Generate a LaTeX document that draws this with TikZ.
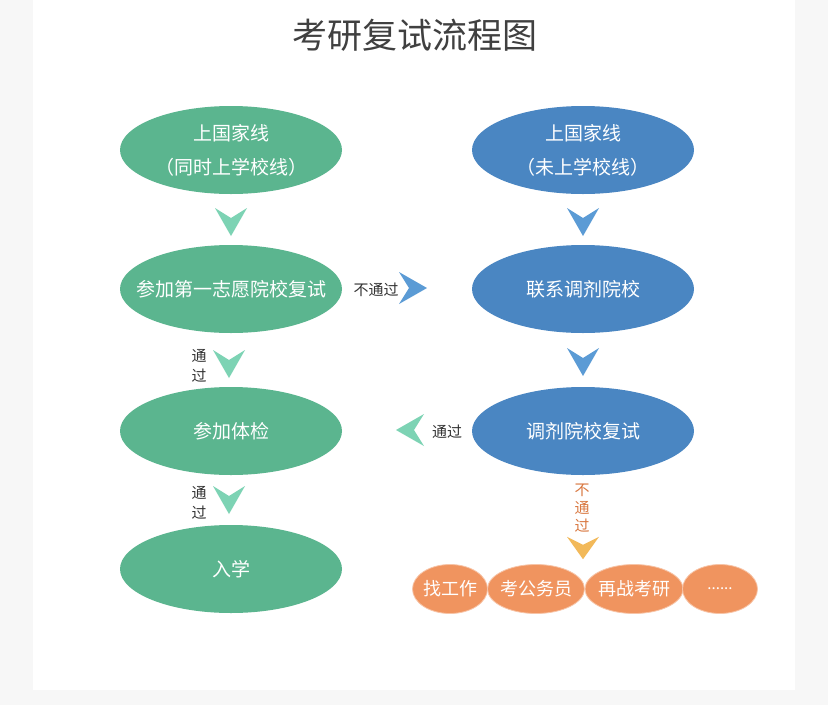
\documentclass[tikz,border=0pt]{standalone}
\usepackage{fontspec}
\setmainfont{Noto Sans CJK SC}
\usepackage{tikz}
\usetikzlibrary{positioning,calc,shapes.geometric}
\definecolor{passgreen}{RGB}{91,181,143}
\definecolor{adjblue}{RGB}{74,134,194}
\definecolor{failorange}{RGB}{240,148,95}
\definecolor{mintarrow}{RGB}{125,211,180}
\definecolor{skyarrow}{RGB}{91,155,213}
\definecolor{goldarrow}{RGB}{242,185,90}
\definecolor{labelgray}{RGB}{51,51,51}
\definecolor{titlegray}{RGB}{64,64,64}
\definecolor{labelorange}{RGB}{217,119,63}
\definecolor{pagegray}{RGB}{247,247,247}

\begin{document}
\begin{tikzpicture}[x=1pt,y=-1pt,
    oval/.style={ellipse,inner xsep=-40pt,inner ysep=0pt,minimum width=222pt,minimum height=88pt,
                 text=white,align=center,font=\fontsize{19}{34}\selectfont},
    endoval/.style={ellipse,inner xsep=-10pt,inner ysep=0pt,minimum height=49pt,draw=failorange!55!white,
                 line width=0.8pt,fill=failorange,text=white,font=\fontsize{18}{20}\selectfont},
    lbl/.style={text=labelgray,align=center,font=\fontsize{15}{20}\selectfont},
    chev/.pic={\fill (-16,-14) -- (0,-4) -- (16,-14) -- (0,14) -- cycle;}]
        % page and panel
        \fill[pagegray] (0,0) rectangle (828,705);
        \fill[white] (33,0) rectangle (795,690);
        \node[text=titlegray,font=\fontsize{35}{35}\selectfont] (title) at (415,35) {考研复试流程图};
        % left column
        \node[oval,fill=passgreen] (g1) at (231,150) {上国家线\\（同时上学校线）};
        \node[oval,fill=passgreen] (g2) at (231,289) {参加第一志愿院校复试};
        \node[oval,fill=passgreen] (g3) at (231,431) {参加体检};
        \node[oval,fill=passgreen] (g4) at (231,569) {入学};
        % right column
        \node[oval,fill=adjblue] (b1) at (583,150) {上国家线\\（未上学校线）};
        \node[oval,fill=adjblue] (b2) at (583,289) {联系调剂院校};
        \node[oval,fill=adjblue] (b3) at (583,431) {调剂院校复试};
        % other ways out
        \node[endoval,minimum width=75pt] (o1) at (450,589) {找工作};
        \node[endoval,minimum width=97pt] (o2) at (536,589) {考公务员};
        \node[endoval,minimum width=98pt] (o3) at (634,589) {再战考研};
        \node[endoval,minimum width=75pt,font=\fontsize{15}{15}\selectfont] (o4) at (720,589) {......};
        % arrows
        \pic[mintarrow] at (231,222) {chev};
        \pic[mintarrow] at (229,364) {chev};
        \pic[mintarrow] at (229,500) {chev};
        \pic[skyarrow] at (583,222) {chev};
        \pic[skyarrow] at (583,362) {chev};
        \pic[skyarrow,rotate=90] at (413,288) {chev};
        \pic[mintarrow,rotate=-90] at (410,430) {chev};
        \pic[goldarrow,yscale=0.8] at (583,548) {chev};
        % labels
        \node[lbl] (pass1) at (199,366) {通\\过};
        \node[lbl] (pass2) at (199,503) {通\\过};
        \node[lbl] (fail1) at (376,290) {不通过};
        \node[lbl] (pass3) at (447,432) {通过};
        \node[lbl,text=labelorange,font=\fontsize{15}{18}\selectfont] (fail2) at (582,508) {不\\通\\过};
      \end{tikzpicture}
\end{document}
